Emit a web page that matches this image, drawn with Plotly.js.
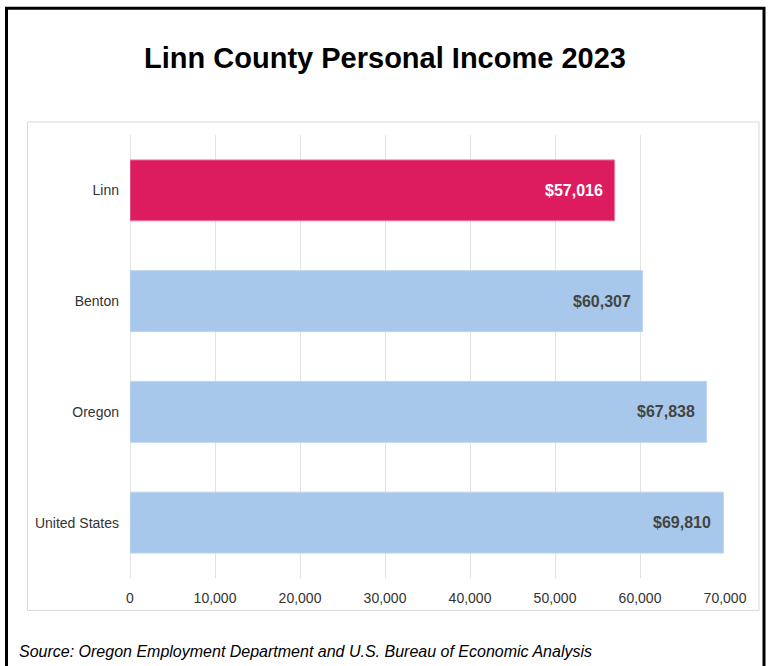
<!DOCTYPE html>
<html>
<head>
<meta charset="utf-8">
<script src="https://cdn.plot.ly/plotly-3.0.1.min.js"></script>
<style>
html,body{margin:0;padding:0;background:#fff;}
#chart{width:770px;height:666px;}
</style>
</head>
<body>
<div id="chart"></div>
<script>
const categories = ["Linn", "Benton", "Oregon", "United States"];
const incomes = [57016, 60307, 67838, 69810];
const valueLabels = ["$57,016", "$60,307", "$67,838", "$69,810"];
const tickValues = [0, 10000, 20000, 30000, 40000, 50000, 60000, 70000];
const tickLabels = ["0", "10,000", "20,000", "30,000", "40,000", "50,000", "60,000", "70,000"];

const W = 770, H = 666;
const M = {l: 130, r: 45, t: 134.5, b: 87.5};
const PW = W - M.l - M.r, PH = H - M.t - M.b;
const px = x => (x - M.l) / PW;
const py = y => (H - M.b - y) / PH;

const barColors = categories.map(c => c === "Linn" ? "#DC1C5E" : "#A7C8EA");
const lineColors = categories.map(c => c === "Linn" ? "#EC7AA0" : "#BDD5EF");
const labelColors = categories.map(c => c === "Linn" ? "#FFFFFF" : "#444444");

const trace = {
  type: "bar",
  orientation: "h",
  x: incomes,
  y: categories,
  width: 0.55,
  marker: {color: barColors, line: {color: lineColors, width: 1}},
  hoverinfo: "none"
};

const annotations = incomes.map((v, i) => ({
  x: v, y: categories[i], xref: "x", yref: "y",
  text: "<b>" + valueLabels[i] + "</b>",
  showarrow: false, xanchor: "right", yanchor: "middle", xshift: -10,
  font: {family: "Liberation Sans, Arial, sans-serif", size: 16, color: labelColors[i]}
}));
annotations.push({
  xref: "paper", yref: "paper", x: px(17), y: py(652),
  xanchor: "left", yanchor: "middle", showarrow: false,
  text: "<i>Source: Oregon Employment Department and U.S. Bureau of Economic Analysis</i>",
  font: {family: "Liberation Sans, Arial, sans-serif", size: 16, color: "#000"}
});

const layout = {
  width: W, height: H,
  margin: M,
  paper_bgcolor: "#fff", plot_bgcolor: "#fff",
  showlegend: false,
  font: {family: "Liberation Sans, Arial, sans-serif", size: 14, color: "#333"},
  title: {
    text: "<b>Linn County Personal Income 2023</b>",
    font: {family: "Liberation Sans, Arial, sans-serif", size: 29, color: "#000"},
    x: 0.5, xref: "container", xanchor: "center",
    y: 1 - 58 / H, yref: "container", yanchor: "middle"
  },
  xaxis: {
    range: [0, 70000],
    tickvals: tickValues, ticktext: tickLabels,
    showgrid: true, gridcolor: "#E3E3E3", gridwidth: 1,
    zeroline: true, zerolinecolor: "#E3E3E3", zerolinewidth: 1,
    showline: false, ticks: "", ticklabelstandoff: 10,
    tickfont: {size: 14, color: "#333"},
    fixedrange: true
  },
  yaxis: {
    categoryorder: "array", categoryarray: categories,
    autorange: "reversed",
    showgrid: false, zeroline: false, showline: false,
    ticks: "", ticklabelstandoff: 10,
    tickfont: {size: 14, color: "#333"},
    fixedrange: true
  },
  annotations: annotations,
  shapes: [
    {type: "rect", xref: "paper", yref: "paper",
     x0: px(6.5), x1: px(764), y0: py(700), y1: py(7.5),
     line: {color: "#000", width: 3}, fillcolor: "rgba(0,0,0,0)", layer: "above"},
    {type: "rect", xref: "paper", yref: "paper",
     x0: px(27.5), x1: px(759), y0: py(611), y1: py(121.5),
     line: {color: "#D9D9D9", width: 1}, fillcolor: "rgba(0,0,0,0)", layer: "below"}
  ]
};

Plotly.newPlot("chart", [trace], layout, {displayModeBar: false, staticPlot: true});
</script>
</body>
</html>
